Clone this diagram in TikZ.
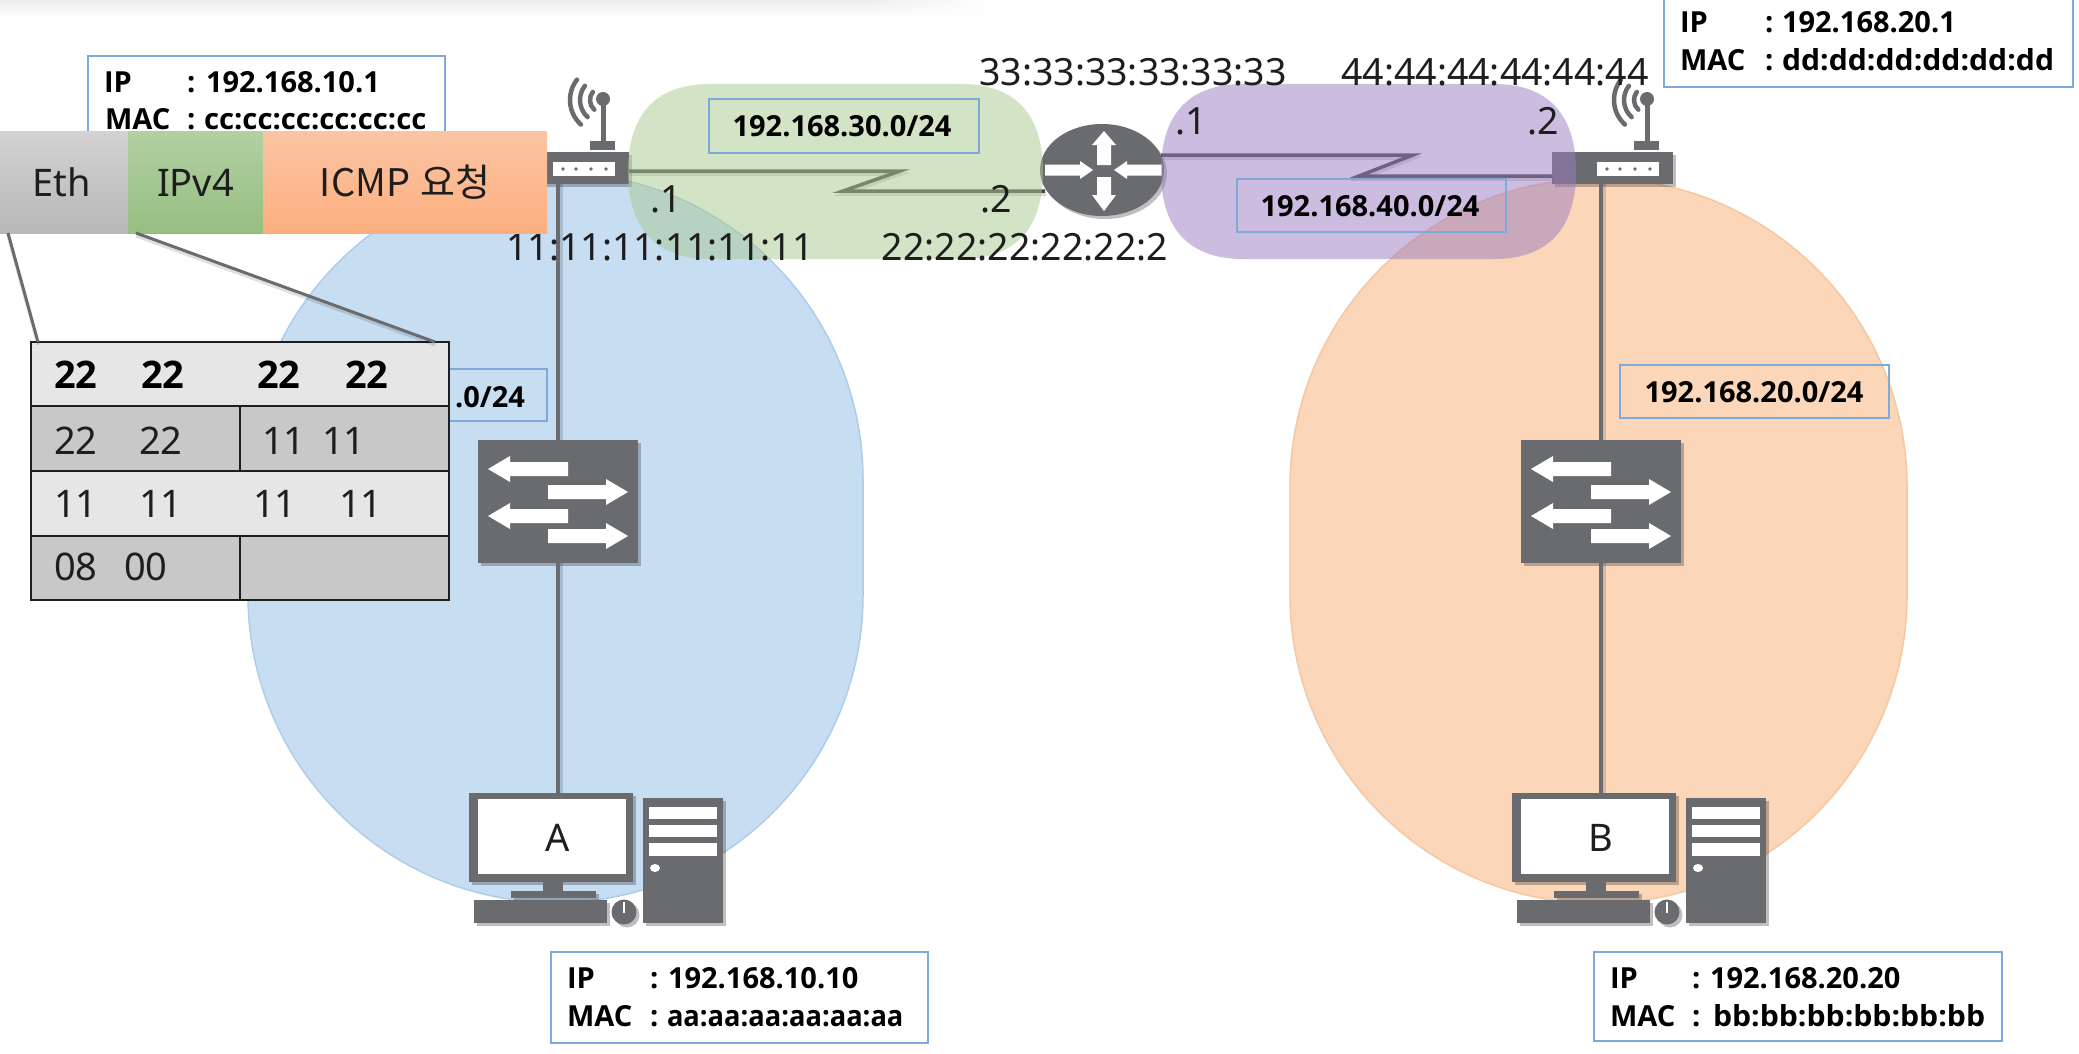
\documentclass[tikz,border=0pt]{standalone}
\usepackage{fontspec}
\setmainfont{Noto Sans}
\newfontfamily\krfont{Noto Sans CJK KR}
\newfontfamily\heavy{Open Sans}[BoldFont={Open Sans Bold}]
\usetikzlibrary{shadows,shapes.geometric,fadings}
\definecolor{icon}{HTML}{6A6B6E}
\definecolor{boxline}{HTML}{7FA9D8}
\definecolor{bluefill}{HTML}{C7DDF2}
\definecolor{blueedge}{HTML}{AECDEA}
\definecolor{orangefill}{HTML}{FBD6B8}
\definecolor{orangeedge}{HTML}{F5C8A4}
\definecolor{greenov}{HTML}{A9C98F}
\definecolor{purpleov}{HTML}{9B7BC1}
\definecolor{ink}{HTML}{1E1E1E}
\definecolor{rowa}{HTML}{E6E6E6}
\definecolor{rowb}{HTML}{C8C8C8}
\definecolor{ethtop}{HTML}{D2D2D2}
\definecolor{ethbot}{HTML}{B8B8B8}
\definecolor{iptop}{HTML}{B2D0A2}
\definecolor{ipbot}{HTML}{97BE82}
\definecolor{ictop}{HTML}{FAC5A3}
\definecolor{icbot}{HTML}{FDAE7E}
\tikzset{
  iconfill/.style={fill=icon,draw=none},
  iconshadow/.style={drop shadow={shadow xshift=3pt,shadow yshift=-3pt,opacity=.25,fill=black}},
  block/.style={rectangle,inner sep=0pt,outer sep=0pt,iconfill,iconshadow},
  wire/.style={draw=icon,line width=4pt,preaction={draw=black,opacity=.14,line width=4pt,transform canvas={xshift=3pt}}},
  serial/.style={draw=icon!65!black,line width=3.5pt,line join=miter,preaction={draw=black,opacity=.14,line width=3.5pt,transform canvas={xshift=1pt,yshift=-3pt}}},
  netbox/.style={rectangle,draw=boxline,line width=2.5pt,inner sep=0pt,outer sep=0pt},
  addrbox/.style={netbox,fill=white},
  bold/.style={font=\fontsize{29}{30}\selectfont\heavy\bfseries,text=black,inner sep=0pt,outer sep=0pt},
  lab/.style={font=\fontsize{37.5}{38}\selectfont,text=ink,inner sep=0pt,outer sep=0pt},
  cell/.style={font=\fontsize{38}{38}\selectfont,text=ink,inner sep=0pt,outer sep=0pt,anchor=base west},
  cellb/.style={cell,font=\fontsize{38}{38}\selectfont\heavy\bfseries,text=black},
  pkt/.style={rectangle,inner sep=0pt,outer sep=0pt,minimum height=101pt,text=ink,font=\fontsize{38}{38}\selectfont},
  trow/.style={draw=ink,line width=2.5pt},
  zoomline/.style={draw=icon,line width=3pt,preaction={draw=black,opacity=.12,line width=3pt,transform canvas={yshift=-3pt}}}
}
% polygon arrows: tip, head base, tail, centre, half shaft, half head
\newcommand\harrowpoly[6]{\fill[white] (#1,#4) -- (#2,{#4-#6}) -- (#2,{#4-#5}) -- (#3,{#4-#5}) -- (#3,{#4+#5}) -- (#2,{#4+#5}) -- (#2,{#4+#6}) -- cycle;}
\newcommand\varrowpoly[6]{\fill[white] (#4,#1) -- ({#4-#6},#2) -- ({#4-#5},#2) -- ({#4-#5},#3) -- ({#4+#5},#3) -- ({#4+#5},#2) -- ({#4+#6},#2) -- cycle;}
% one address line: name, x of key, x of colon, x of value, baseline, key, value
\newcommand\addrline[7]{%
  \node[bold,anchor=base west] (#1k) at (#2,#5) {#6};
  \node[bold,anchor=base west] (#1c) at (#3,#5) {:};
  \node[bold,anchor=base west] (#1v) at (#4,#5) {#7};}
\begin{document}
\begin{tikzpicture}[x=1pt,y=-1pt]
\useasboundingbox (0,0) rectangle (2079,1054);
\fill[white] (0,0) rectangle (2079,1054);
\shade[top color=black!7,bottom color=white] (0,0) rectangle (990,18);
\fill[white,path fading=west] (860,0) rectangle (991,19);

% subnets, lower pair
\path[fill=bluefill,draw=blueedge,line width=1.5pt] (248,480) arc[start angle=180,end angle=0,radius=307.5pt] -- (863,595) arc[start angle=360,end angle=180,radius=307.5pt] -- cycle;
\path[fill=orangefill,draw=orangeedge,line width=1.5pt] (1290,487) arc[start angle=180,end angle=0,radius=308.5pt] -- (1907,595) arc[start angle=360,end angle=180,radius=308.5pt] -- cycle;

% routers with antenna
\foreach \dx/\nm in {-1044/L,0/R}{
\begin{scope}[shift={(\dx,0)}]
  \fill[icon] (1644.5,99) rectangle (1649.5,142);
  \fill[icon] (1647,99) circle[radius=7pt];
  \fill[icon] (1634,141) rectangle (1659,150);
  \foreach \r in {13,23,33}
    \draw[icon,line width=4.5pt,line cap=round] (1647,100) ++(142:\r pt) arc[start angle=142,end angle=228,radius=\r pt];
  \node[block,minimum width=121pt,minimum height=32pt] (router\nm) at (1612.5,168) {};
  \fill[white] (1597,162) rectangle (1659,176);
  \foreach \px in {1607,1620,1635,1650}
    \fill[icon] (\px,169) circle[radius=1.8pt];
\end{scope}
}

% switches
\foreach \dx/\nm in {-1043/L,0/R}{
\begin{scope}[shift={(\dx,0)}]
  \node[block,minimum width=160pt,minimum height=123pt] (switch\nm) at (1601,501.5) {};
  \harrowpoly{1531}{1553}{1611}{469}{7}{13}
  \harrowpoly{1671}{1649}{1591}{492}{7}{13}
  \harrowpoly{1531}{1553}{1611}{516}{7}{13}
  \harrowpoly{1671}{1649}{1591}{536}{7}{13}
\end{scope}
}

% computers
\foreach \dx/\nm/\txt in {-1043/L/A,0/R/B}{
\begin{scope}[shift={(\dx,0)}]
  \node[block,minimum width=164pt,minimum height=89pt] (mon\nm) at (1594,837.5) {};
  \fill[white] (1521,799) rectangle (1669,874);
  \node[lab,font=\fontsize{38}{38}\selectfont] (name\nm) at (1601,838) {\txt};
  \fill[icon] (1586,882) rectangle (1606,892);
  \fill[icon,iconshadow] (1554,891) rectangle (1639,898);
  \fill[icon,iconshadow] (1517,900) rectangle (1650,923);
  \fill[icon,iconshadow] (1667,912) circle[radius=12.5pt];
  \fill[white] (1666,902) rectangle (1668,913);
  \fill[icon,iconshadow] (1686,798) rectangle (1766,923);
  \fill[white] (1692,807) rectangle (1760,819);
  \fill[white] (1692,825) rectangle (1760,837);
  \fill[white] (1692,843) rectangle (1760,856);
  \fill[white] (1698,868) ellipse[x radius=5pt,y radius=4pt];
\end{scope}
}

% core router
\node[ellipse,inner sep=0pt,outer sep=0pt,iconfill,iconshadow,minimum width=124pt,minimum height=92pt] (core) at (1102,170) {};
\varrowpoly{131}{145}{165}{1104}{7}{12}
\varrowpoly{211}{195}{177}{1104}{7}{12}
\harrowpoly{1093}{1080}{1045}{170}{5.5}{9}
\harrowpoly{1114}{1127}{1162}{170}{5.5}{9}

% LAN wires
\foreach \nm in {L,R}{
  \draw[wire] (switch\nm |- router\nm.south) -- (switch\nm.north);
  \draw[wire] (switch\nm.south) -- (switch\nm |- mon\nm.north);
}

% serial links
\coordinate (gbendA) at (900,171);
\coordinate (gbendB) at (843,191);
\coordinate (pbendA) at (1413,155);
\coordinate (pbendB) at (1359,176);
\draw[serial] ([yshift=-3pt]routerL.east) -- (gbendA) -- (gbendB) -- ([yshift=-21pt,xshift=5pt]core.west);
\draw[serial] ([yshift=15pt,xshift=-3pt]core.east) -- (pbendA) -- (pbendB) -- ([yshift=-8pt]routerR.west);

% subnets, upper pair (translucent, over the links)
\fill[greenov,opacity=.5] (628,171.5) .. controls (628,110) and (660,84) .. (710,84) -- (961,84) .. controls (1011,84) and (1043,110) .. (1043,171.5) .. controls (1043,233) and (1011,259) .. (961,259) -- (710,259) .. controls (660,259) and (628,233) .. (628,171.5) -- cycle;
\fill[purpleov,opacity=.5] (1161,171.5) .. controls (1161,110) and (1193,84) .. (1243,84) -- (1494,84) .. controls (1544,84) and (1576,110) .. (1576,171.5) .. controls (1576,233) and (1544,259) .. (1494,259) -- (1243,259) .. controls (1193,259) and (1161,233) .. (1161,171.5) -- cycle;

% network boxes
\node[netbox,minimum width=270pt,minimum height=54pt] (net30) at (844,126) {};
\node[bold] (net30t) at (842,126) {192.168.30.0/24};
\node[netbox,minimum width=269pt,minimum height=53pt] (net40) at (1371.5,205.5) {};
\node[bold] (net40t) at (1370,206) {192.168.40.0/24};
\node[netbox,minimum width=269pt,minimum height=53pt] (net20) at (1754.5,391.5) {};
\node[bold] (net20t) at (1754,392) {192.168.20.0/24};
\node[netbox,minimum width=120pt,minimum height=52pt] (net10) at (487,395) {};
\node[bold,anchor=base east] (net10t) at (525,407) {.0/24};

% address boxes
\node[addrbox,minimum width=357pt,minimum height=100pt] (addrR) at (266.5,106) {};
\addrline{ra}{104}{187}{206}{93}{IP}{192.168.10.1}
\addrline{rb}{105}{187}{204}{130}{MAC}{\scalebox{1.01}[1]{cc:cc:cc:cc:cc:cc}}
\node[addrbox,minimum width=409pt,minimum height=92pt] (addrG) at (1868.5,41) {};
\addrline{ga}{1680}{1765}{1782}{33}{IP}{192.168.20.1}
\addrline{gb}{1680}{1765}{1782}{71}{MAC}{\scalebox{1.04}[1]{dd:dd:dd:dd:dd:dd}}
\node[addrbox,minimum width=377pt,minimum height=91pt] (addrA) at (739.5,997.5) {};
\addrline{aa}{567}{650}{668}{988}{IP}{192.168.10.10}
\addrline{ab}{567}{650}{667}{1026}{MAC}{\scalebox{.94}[1]{aa:aa:aa:aa:aa:aa}}
\node[addrbox,minimum width=408pt,minimum height=89pt] (addrB) at (1798,996.5) {};
\addrline{ba}{1610}{1692}{1710}{988}{IP}{192.168.20.20}
\addrline{bb}{1610}{1692}{1713}{1026}{MAC}{\scalebox{1.04}[1]{bb:bb:bb:bb:bb:bb}}

% interface labels
\node[lab,anchor=base] (mac3) at (1133,86) {33:33:33:33:33:33};
\node[lab,anchor=base] (mac4) at (1495,86) {44:44:44:44:44:44};
\node[lab,anchor=base] (mac1) at (660,260) {11:11:11:11:11:11};
\node[lab,anchor=base] (mac2) at (1025,260) {22:22:22:22:22:2};
\node[lab,anchor=base] (dotA) at (666,212) {.1};
\node[lab,anchor=base] (dotB) at (996,212) {.2};
\node[lab,anchor=base] (dotC) at (1191,135) {.1};
\node[lab,anchor=base] (dotD) at (1543,135) {.2};

% packet
\node[pkt,minimum width=128pt,top color=ethtop,bottom color=ethbot,text depth=0pt] (eth) at (64,182.5) {\hspace{-4pt}Eth};
\node[pkt,minimum width=135pt,top color=iptop,bottom color=ipbot] (ipv4) at (195.5,182.5) {IPv4};
\node[pkt,minimum width=284pt,top color=ictop,bottom color=icbot] (icmp) at (405,182.5) {\krfont ICMP\hspace{10pt}요청};

% header table
\node[rectangle,inner sep=0pt,outer sep=0pt,minimum width=418pt,minimum height=258pt,fill=rowb] (tbl) at (240,471) {};
\fill[rowa] (31,342) rectangle (449,406);
\fill[rowa] (31,471) rectangle (449,536);
\draw[trow] (tbl.north west) rectangle (tbl.south east);
\draw[trow] (31,406) -- (449,406);
\draw[trow] (31,471) -- (449,471);
\draw[trow] (31,536) -- (449,536);
\draw[trow] (240,406) -- (240,471);
\draw[trow] (240,536) -- (240,600);
\draw[zoomline] ([xshift=8pt]eth.south west) -- ([xshift=7pt]tbl.north west);
\draw[zoomline] ([xshift=8pt]ipv4.south west) -- ([xshift=-14pt]tbl.north east);
\node[cellb] (c11) at (54,388) {22};
\node[cellb] (c12) at (141,388) {22};
\node[cellb] (c13) at (257,388) {22};
\node[cellb] (c14) at (345,388) {22};
\node[cell] (c21) at (54,454) {22};
\node[cell] (c22) at (139,454) {22};
\node[cell] (c23) at (262,454) {11};
\node[cell] (c24) at (322,454) {11};
\node[cell] (c31) at (54,517) {11};
\node[cell] (c32) at (139,517) {11};
\node[cell] (c33) at (253,517) {11};
\node[cell] (c34) at (339,517) {11};
\node[cell] (c41) at (54,580) {08};
\node[cell] (c42) at (124,580) {00};
\end{tikzpicture}
\end{document}
